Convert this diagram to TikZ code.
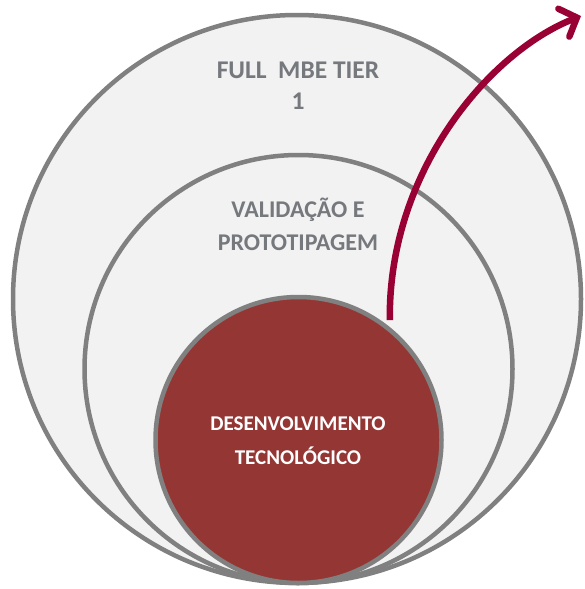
\documentclass[tikz,border=0pt]{standalone}
\usepackage{fontspec}
\setmainfont{Carlito}
\usetikzlibrary{arrows.meta}
\definecolor{ring}{HTML}{808080}
\definecolor{ringfill}{HTML}{F2F2F2}
\definecolor{core}{HTML}{943634}
\definecolor{arrowred}{HTML}{990033}
\definecolor{txt}{HTML}{75787C}
\begin{document}
\begin{tikzpicture}[x=1pt,y=-1pt,
  ring/.style={circle, draw=ring, fill=ringfill, line width=4.5pt, inner sep=0pt},
  lbl/.style={align=center, font=\bfseries\fontsize{24}{33}\selectfont, text=txt}]
  \useasboundingbox (0,0) rectangle (585,589);
  \node[ring, minimum size=568pt] (F) at (297,299) {}; \node[ring,
  minimum size=428pt] (V) at (298.5,369) {}; \node[ring, fill=core,
  minimum size=286pt] (D) at (298.5,440) {};
  \node[lbl, font=\bfseries\fontsize{25.5}{31}\selectfont] (FT) at (298,86)
  {FULL~ MBE TIER\\1}; \node[lbl] (VT) at (298,224)
  {VALIDAÇÃO E\\PROTOTIPAGEM}; \node[lbl, text=white,
  font=\bfseries\fontsize{21}{34}\selectfont] (DT) at (298,441)
  {DESENVOLVIMENTO\\TECNOLÓGICO};
  \coordinate (T) at (581,16);
  \draw[arrowred, line width=6.5pt, shorten <=7pt,
  -{Straight Barb[length=14pt,width=30pt,line cap=round]}] (D.51)
  .. controls (388,172) and (489,52) .. (T);
\end{tikzpicture}
\end{document}
